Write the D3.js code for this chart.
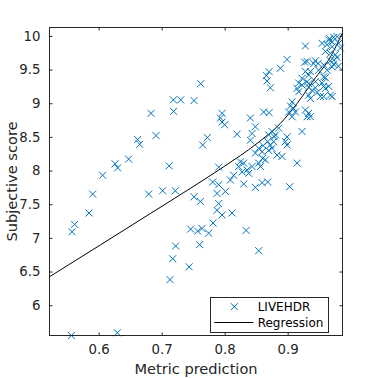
<!DOCTYPE html>
<html><head><meta charset="utf-8">
<script src="https://cdn.jsdelivr.net/npm/d3@7"></script>
<style>html,body{margin:0;padding:0;background:#fff;}svg{display:block;}</style>
</head><body><svg id="c" width="378" height="378"></svg>
<script>
const metricPred = [0.5567,0.6297,0.5578,0.5619,0.5848,0.5905,0.6063,0.6260,0.6302,0.6476,0.6619,0.6651,0.6832,0.6911,0.6794,0.7016,0.7217,0.7117,0.7186,0.7302,0.7514,0.7190,0.7619,0.7651,0.7725,0.7514,0.7614,0.7460,0.7571,0.7641,0.7746,0.7222,0.7175,0.7435,0.7133,0.7603,0.8340,0.8540,0.7810,0.7905,0.7879,0.8011,0.7905,0.7879,0.7959,0.8117,0.7816,
0.8091,0.8143,0.8276,0.8302,0.8381,0.8487,0.8594,0.8683,0.9032,0.7905,0.8222,0.8302,0.8356,0.8435,0.8567,0.8540,0.8249,0.8646,0.8487,0.8540,0.8594,0.8603,0.8610,0.8725,0.8752,0.8698,0.8778,0.8683,0.8832,0.8911,0.8963,0.8990,0.9149,0.8408,0.8435,0.8197,0.8408,0.8487,0.8619,0.8705,0.7959,0.7932,0.7959,0.8000,
0.8662,0.8705,0.8673,0.8725,0.8884,0.8990,0.9281,0.8752,0.8806,0.8789,0.8857,0.8698,0.8990,0.9228,0.9070,0.9044,0.9095,0.9016,0.9122,0.9070,0.9281,0.9333,0.9308,0.9360,0.9149,0.9175,0.9333,0.9387,0.9440,0.9598,0.9678,0.9705,0.9519,0.9333,0.9360,0.9270,0.9440,0.9483,0.9308,0.9571,0.9730,0.9281,0.9333,0.9228,0.9308,0.9440,0.9175,0.9571,
0.9651,0.9784,0.9625,0.9705,0.9810,0.9837,0.9598,0.9678,0.9757,0.9546,0.9667,0.9730,0.9705,0.9784,0.9678,0.9730,0.9705,0.9625,0.9571,0.9492,0.9413,0.9360,0.9333,0.9228,0.9467,0.9546,0.9598,0.9651,0.9571,0.9806];
const subjScore = [5.55,5.59,7.09,7.20,7.37,7.65,7.93,8.10,8.04,8.17,8.46,8.39,8.85,8.52,7.65,7.70,7.70,8.07,9.05,9.05,9.04,8.88,9.29,8.38,8.49,7.61,7.54,7.13,7.10,7.14,7.07,6.88,6.69,6.57,6.38,6.90,7.11,6.81,7.83,7.79,7.66,7.69,7.51,7.41,7.34,7.37,7.22,
7.86,7.93,7.98,7.80,7.96,7.75,7.82,7.83,7.76,8.05,8.06,8.11,8.01,8.06,8.06,8.11,8.13,8.16,8.26,8.33,8.28,8.18,8.37,8.38,8.33,8.30,8.43,8.43,8.23,8.21,8.43,8.38,8.11,8.45,8.55,8.54,8.78,8.65,8.87,8.86,8.85,8.78,8.72,8.68,
9.41,9.47,9.33,9.23,9.52,9.65,9.85,8.58,8.53,8.50,8.63,8.53,8.50,8.58,9.02,8.96,8.92,8.87,8.87,8.80,8.90,8.85,8.80,8.80,9.22,9.17,9.24,9.19,9.23,9.22,9.12,9.10,9.10,9.12,9.07,9.61,9.63,9.59,9.62,9.57,9.64,9.47,9.42,9.37,9.32,9.32,9.30,9.25,
9.94,9.99,9.87,9.84,9.89,9.82,9.77,9.74,9.72,9.89,9.96,9.98,9.91,9.68,9.63,9.58,9.54,9.49,9.39,9.49,9.59,9.47,9.29,9.27,9.16,9.30,9.38,9.25,9.10,9.55];
const regX = [0.5222,0.6027,0.6821,0.7456,0.7984,0.8514,0.8884,0.9149,0.9413,0.9678,0.9863];
const regY = [6.424,6.895,7.362,7.736,8.056,8.404,8.700,8.997,9.343,9.688,10.036];
const xTicks = [0.6,0.7,0.8,0.9];
const yTicks = [6,6.5,7,7.5,8,8.5,9,9.5,10];
const xDomain = [0.522,0.987];
const yDomain = [5.55,10.125];
const seriesNames = ["LIVEHDR","Regression"];
const xLabel = "Metric prediction", yLabel = "Subjective score";

const L=49.5,R=342.5,T=27.5,B=335.5;
const axC="#262626", mC="#0072BD", font="'DejaVu Sans', sans-serif";
const svg=d3.select("#c");
svg.append("rect").attr("width",378).attr("height",378).attr("fill","#fff");
const x=d3.scaleLinear().domain(xDomain).range([L,R]);
const y=d3.scaleLinear().domain(yDomain).range([B,T]);

// regression line
const defs=svg.append("defs");
defs.append("clipPath").attr("id","clip").append("rect").attr("x",L).attr("y",T).attr("width",R-L).attr("height",B-T);
const reg=regX.map((v,i)=>[v,regY[i]]);
svg.append("path").attr("clip-path","url(#clip)").attr("d",d3.line().x(d=>x(d[0])).y(d=>y(d[1])).curve(d3.curveMonotoneX)(reg))
  .attr("fill","none").attr("stroke","#000").attr("stroke-width",1);

// markers
const s=3.5;
const pts=metricPred.map((v,i)=>[v,subjScore[i]]);
svg.append("g").selectAll("path").data(pts).join("path")
  .attr("d",d=>{const cx=x(d[0]),cy=y(d[1]);return `M${cx-s},${cy-s}L${cx+s},${cy+s}M${cx-s},${cy+s}L${cx+s},${cy-s}`;})
  .attr("stroke",mC).attr("stroke-width",1).attr("fill","none");

// axes
const gx=svg.append("g").attr("transform",`translate(0,${B})`).call(d3.axisBottom(x).tickValues(xTicks).tickSize(-3).tickPadding(9).tickFormat(d3.format(".1f")));
const gxt=svg.append("g").attr("transform",`translate(0,${T})`).call(d3.axisTop(x).tickValues(xTicks).tickSize(-3).tickFormat(""));
const gy=svg.append("g").attr("transform",`translate(${L},0)`).call(d3.axisLeft(y).tickValues(yTicks).tickSize(-3).tickPadding(9).tickFormat(d=>String(d)));
const gyr=svg.append("g").attr("transform",`translate(${R},0)`).call(d3.axisRight(y).tickValues(yTicks).tickSize(-3).tickFormat(""));
[gx,gxt,gy,gyr].forEach(g=>{g.select(".domain").remove();g.selectAll("line").attr("stroke",axC);g.selectAll("text").attr("fill",axC).style("font-family",font).style("font-size","13.3px");});
svg.append("rect").attr("x",L).attr("y",T).attr("width",R-L).attr("height",B-T).attr("fill","none").attr("stroke",axC).attr("stroke-width",1);

svg.append("text").attr("x",(L+R)/2).attr("y",374).attr("text-anchor","middle").attr("fill",axC)
  .style("font-family",font).style("font-size","14.6px").text(xLabel);
svg.append("text").attr("transform",`translate(17,${(T+B)/2}) rotate(-90)`).attr("text-anchor","middle").attr("fill",axC)
  .style("font-family",font).style("font-size","14.6px").text(yLabel);

// legend
const lg=svg.append("g");
lg.append("rect").attr("x",210.5).attr("y",297.5).attr("width",118).attr("height",35).attr("fill","#fff").attr("stroke",axC).attr("stroke-width",1);
const mx=234.3,my=306.7;
lg.append("path").attr("d",`M${mx-s},${my-s}L${mx+s},${my+s}M${mx-s},${my+s}L${mx+s},${my-s}`).attr("stroke",mC).attr("stroke-width",1);
lg.append("line").attr("x1",214.3).attr("x2",253.3).attr("y1",322.5).attr("y2",322.5).attr("stroke","#000").attr("stroke-width",1);
lg.selectAll("text.l").data(seriesNames).join("text").attr("x",257.7).attr("y",(d,i)=>[306.7,322.7][i]).attr("dy","0.35em")
  .attr("fill","#000").style("font-family",font).style("font-size","12px").text(d=>d);
</script></body></html>
